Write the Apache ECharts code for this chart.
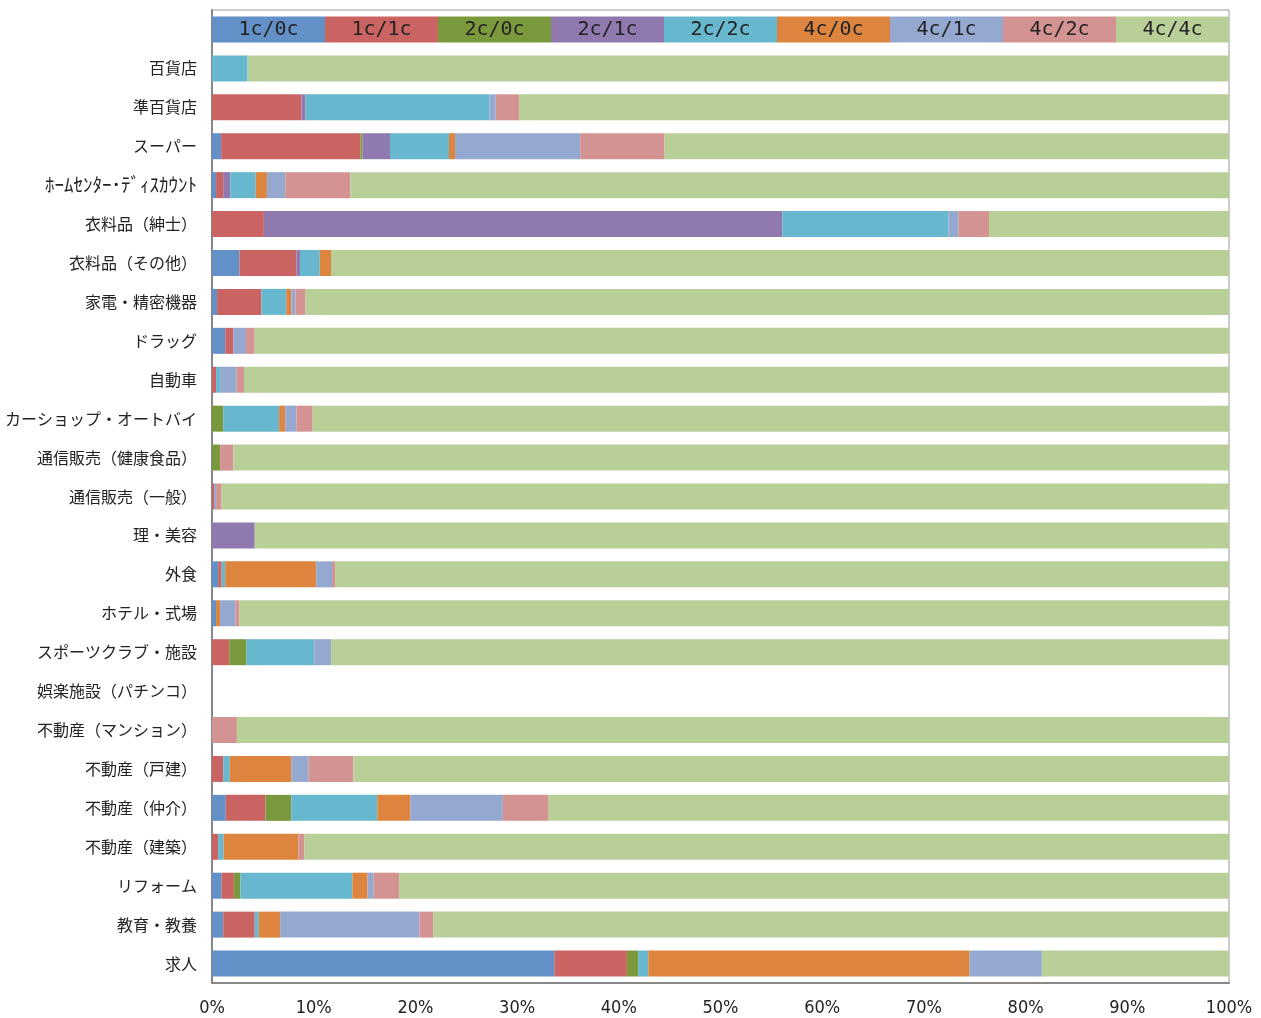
<!DOCTYPE html>
<html>
<head>
<meta charset="utf-8">
<script src="https://cdn.jsdelivr.net/npm/echarts@6/dist/echarts.min.js"></script>
<style>
  html, body { margin: 0; padding: 0; background: #fff; }
  #chart { width: 1261px; height: 1018px; }
</style>
</head>
<body>
<div id="chart"></div>
<script>
const categories = [
  '百貨店', '準百貨店', 'スーパー', 'ﾎｰﾑｾﾝﾀｰ･ﾃﾞｨｽｶｳﾝﾄ', '衣料品（紳士）', '衣料品（その他）',
  '家電・精密機器', 'ドラッグ', '自動車', 'カーショップ・オートバイ', '通信販売（健康食品）',
  '通信販売（一般）', '理・美容', '外食', 'ホテル・式場', 'スポーツクラブ・施設',
  '娯楽施設（パチンコ）', '不動産（マンション）', '不動産（戸建）', '不動産（仲介）',
  '不動産（建築）', 'リフォーム', '教育・教養', '求人'
]

const seriesNames = ['1c/0c', '1c/1c', '2c/0c', '2c/1c', '2c/2c', '4c/0c', '4c/1c', '4c/2c', '4c/4c']
const colors = ['#6390c6', '#c96462', '#7a993c', '#9079ae', '#67b8ce', '#dd843e', '#95a9d0', '#d39392', '#b9cf98']

// percent shares, one value per category
const s1c0c = [0, 0, 0.9, 0.4, 0, 2.7, 0.5, 1.3, 0, 0, 0, 0, 0, 0.6, 0.4, 0, null, 0, 0, 1.35, 0, 0.95, 1.1, 33.65]
const s1c1c = [0, 8.8, 13.7, 0.7, 5.1, 5.6, 4.35, 0.8, 0.4, 0, 0, 0.2, 0, 0.35, 0, 1.7, null, 0, 1.1, 3.9, 0.6, 1.2, 3.1, 7.15]
const s2c0c = [0, 0, 0.2, 0, 0, 0, 0, 0, 0, 1.1, 0.8, 0, 0, 0, 0, 1.7, null, 0, 0, 2.55, 0, 0.65, 0, 1.1]
const s2c1c = [0, 0.4, 2.7, 0.7, 51.0, 0.35, 0, 0, 0, 0, 0, 0, 4.2, 0, 0, 0, null, 0, 0, 0, 0, 0, 0, 0]
const s2c2c = [3.5, 18.1, 5.8, 2.5, 16.3, 1.95, 2.45, 0, 0.4, 5.5, 0, 0, 0, 0.35, 0, 6.65, null, 0, 0.65, 8.45, 0.55, 11.0, 0.4, 1.0]
const s4c0c = [0, 0, 0.6, 1.1, 0, 1.1, 0.5, 0, 0, 0.6, 0, 0, 0, 8.95, 0.4, 0, null, 0, 6.05, 3.25, 7.35, 1.5, 2.1, 31.6]
const s4c1c = [0, 0.6, 12.3, 1.8, 1.0, 0, 0.4, 1.25, 1.6, 1.1, 0, 0.2, 0, 1.55, 1.5, 1.65, null, 0, 1.7, 9.1, 0, 0.6, 13.7, 7.1]
const s4c2c = [0, 2.3, 8.3, 6.4, 3.0, 0, 1.0, 0.85, 0.75, 1.6, 1.3, 0.55, 0, 0.3, 0.4, 0, null, 2.45, 4.4, 4.5, 0.6, 2.5, 1.35, 0]
const s4c4c = [96.5, 69.8, 55.5, 86.4, 23.6, 88.3, 90.8, 95.8, 96.85, 90.1, 97.9, 99.05, 95.8, 87.9, 97.3, 88.3, null, 97.55, 86.1, 66.9, 90.9, 81.6, 78.25, 18.4]

const xTicks = [0, 10, 20, 30, 40, 50, 60, 70, 80, 90, 100]

const seriesData = [s1c0c, s1c1c, s2c0c, s2c1c, s2c2c, s4c0c, s4c1c, s4c2c, s4c4c]

// the legend is drawn as an extra top row, split evenly between the series
const legendShare = 100 / seriesNames.length

const chart = echarts.init(document.getElementById('chart'))

const option = {
  animation: false,
  grid: {
    left: 212,
    right: 32,
    top: 10,
    bottom: 35,
    show: true,
    borderColor: '#9a9a9a',
    borderWidth: 1
  },
  xAxis: {
    type: 'value',
    min: 0,
    max: 100,
    interval: 10,
    axisLine: { show: true, lineStyle: { color: '#888', width: 2 } },
    axisTick: { show: false },
    splitLine: { show: false },
    axisLabel: {
      formatter: v => xTicks.includes(v) ? v + '%' : '',
      fontFamily: 'DejaVu Sans Condensed',
      fontSize: 18,
      color: '#222',
      margin: 16
    }
  },
  yAxis: {
    type: 'category',
    inverse: true,
    data: [''].concat(categories),
    axisLine: { show: true, lineStyle: { color: '#888', width: 2 } },
    axisTick: { show: false },
    axisLabel: {
      fontFamily: 'Noto Sans CJK JP',
      fontSize: 16,
      color: '#222',
      margin: 15,
      formatter: v => v.includes('ﾎｰﾑ') ? '{narrow|' + v + '}' : v,
      rich: {
        narrow: { fontFamily: 'Noto Sans CJK JP', fontSize: 19, color: '#222' }
      }
    }
  },
  series: seriesNames.map((name, i) => ({
    name,
    type: 'bar',
    stack: 'total',
    barWidth: 26,
    itemStyle: { color: colors[i] },
    data: [{
      value: legendShare,
      label: {
        show: true,
        position: 'inside',
        formatter: name,
        fontFamily: 'DejaVu Sans Mono',
        fontSize: 20,
        color: '#222'
      }
    }].concat(seriesData[i])
  }))
}

chart.setOption(option)
window.addEventListener('resize', () => chart.resize())
</script>
</body>
</html>
